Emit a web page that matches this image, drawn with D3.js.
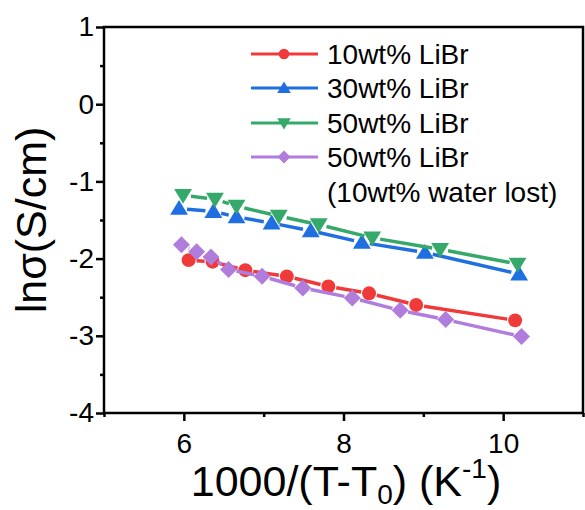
<!DOCTYPE html>
<html>
<head>
<meta charset="utf-8">
<script src="https://cdn.jsdelivr.net/npm/d3@7"></script>
<style>
  body { margin: 0; background: #fff; }
  svg { font-family: "Liberation Sans", Arial, sans-serif; }
</style>
</head>
<body>
<svg id="chart"></svg>
<script>
const width = 585;
const height = 510;

// series data
const libr10X = [6.06, 6.36, 6.77, 7.29, 7.81, 8.32, 8.91, 10.15];
const libr10Y = [-2.02, -2.04, -2.15, -2.23, -2.36, -2.45, -2.60, -2.80];
const libr30X = [5.94, 6.37, 6.66, 7.10, 7.59, 8.23, 9.02, 10.20];
const libr30Y = [-1.35, -1.39, -1.46, -1.54, -1.64, -1.79, -1.92, -2.20];
const libr50X = [5.99, 6.39, 6.66, 7.19, 7.69, 8.36, 9.21, 10.18];
const libr50Y = [-1.18, -1.23, -1.32, -1.45, -1.56, -1.73, -1.88, -2.07];
const lostX = [5.97, 6.16, 6.34, 6.56, 6.98, 7.49, 8.11, 8.71, 9.28, 10.23];
const lostY = [-1.82, -1.91, -1.98, -2.14, -2.23, -2.38, -2.51, -2.67, -2.79, -3.01];

const xTicks = [6, 8, 10];
const xMinor = [5, 7, 9, 11];
const yTicks = [1, 0, -1, -2, -3, -4];
const yMinor = [0.5, -0.5, -1.5, -2.5, -3.5];

const seriesNames = ["10wt% LiBr", "30wt% LiBr", "50wt% LiBr", "50wt% LiBr"];

const series = [
  { name: seriesNames[0], xs: libr10X, ys: libr10Y, color: "#f03a3a", symbol: "circle" },
  { name: seriesNames[1], xs: libr30X, ys: libr30Y, color: "#1f6fe0", symbol: "up" },
  { name: seriesNames[2], xs: libr50X, ys: libr50Y, color: "#35a96a", symbol: "down" },
  { name: seriesNames[3], xs: lostX, ys: lostY, color: "#b07ddd", symbol: "diamond" }
];

const margin = { left: 104, right: 2, top: 27, bottom: 97 };

const svg = d3.select("#chart")
  .attr("width", width)
  .attr("height", height);

const x = d3.scaleLinear().domain([5, 11]).range([margin.left, width - margin.right]);
const y = d3.scaleLinear().domain([-4, 1]).range([height - margin.bottom, margin.top]);

// axes
svg.append("g")
  .attr("transform", `translate(0,${y(-4)})`)
  .call(d3.axisBottom(x).tickValues(xTicks).tickSize(8).tickPadding(12).tickFormat(d3.format("d")));
svg.append("g")
  .attr("transform", `translate(0,${y(-4)})`)
  .call(d3.axisBottom(x).tickValues(xMinor).tickSize(4).tickFormat(""));

const yAxis = svg.append("g")
  .attr("transform", `translate(${x(5)},0)`)
  .call(d3.axisLeft(y).tickValues(yTicks).tickSize(8).tickPadding(2));
svg.append("g")
  .attr("transform", `translate(${x(5)},0)`)
  .call(d3.axisLeft(y).tickValues(yMinor).tickSize(4).tickFormat(""));

svg.selectAll(".domain").remove();
svg.selectAll(".tick line").attr("stroke", "#000").attr("stroke-width", 2.5);
svg.selectAll(".tick text")
  .attr("font-size", 28)
  .attr("font-family", "Liberation Sans, Arial, sans-serif")
  .attr("fill", "#000");
yAxis.selectAll(".tick text").text(d => d < 0 ? "-" + Math.abs(d) : d);

// frame
svg.append("rect")
  .attr("x", x(5))
  .attr("y", y(1))
  .attr("width", x(11) - x(5))
  .attr("height", y(-4) - y(1))
  .attr("fill", "none")
  .attr("stroke", "#000")
  .attr("stroke-width", 2.5);

// marker shapes
function marker(g, symbol, color, s) {
  if (symbol === "circle") {
    g.append("circle").attr("r", s * 0.82).attr("fill", color);
  } else if (symbol === "up") {
    g.append("path")
      .attr("d", `M0,${-s}L${s * 1.05},${s * 0.75}L${-s * 1.05},${s * 0.75}Z`)
      .attr("fill", color);
  } else if (symbol === "down") {
    g.append("path")
      .attr("d", `M0,${s}L${s * 1.05},${-s * 0.75}L${-s * 1.05},${-s * 0.75}Z`)
      .attr("fill", color);
  } else {
    g.append("path")
      .attr("d", `M0,${-s}L${s},0L0,${s}L${-s},0Z`)
      .attr("fill", color);
  }
}

// lines with gaps around markers, then markers
const gap = 8;
series.forEach(s => {
  const pts = s.xs.map((v, i) => [x(v), y(s.ys[i])]);
  const g = svg.append("g");
  for (let i = 0; i < pts.length - 1; i++) {
    const [x1, y1] = pts[i];
    const [x2, y2] = pts[i + 1];
    const len = Math.hypot(x2 - x1, y2 - y1);
    if (len <= 2 * gap) continue;
    const ux = (x2 - x1) / len, uy = (y2 - y1) / len;
    g.append("line")
      .attr("x1", x1 + ux * gap).attr("y1", y1 + uy * gap)
      .attr("x2", x2 - ux * gap).attr("y2", y2 - uy * gap)
      .attr("stroke", s.color)
      .attr("stroke-width", 3.5);
  }
  pts.forEach(p => {
    const m = g.append("g").attr("transform", `translate(${p[0]},${p[1]})`);
    marker(m, s.symbol, s.color, 8.5);
  });
});

// legend
const legend = svg.append("g");
const legendY = [54, 88, 123, 157];
series.forEach((s, i) => {
  const row = legend.append("g").attr("transform", `translate(0,${legendY[i]})`);
  row.append("line")
    .attr("x1", 251).attr("x2", 318)
    .attr("stroke", s.color).attr("stroke-width", 3);
  const m = row.append("g").attr("transform", "translate(284,0)");
  marker(m, s.symbol, s.color, 6.5);
  row.append("text")
    .attr("x", 327).attr("y", 10)
    .attr("font-size", 28)
    .text(s.name);
});
legend.append("text")
  .attr("x", 327).attr("y", 202)
  .attr("font-size", 28)
  .text("(10wt% water lost)");

// axis titles
const xTitle = svg.append("text")
  .attr("x", 346).attr("y", 496)
  .attr("text-anchor", "middle")
  .attr("font-size", 43);
xTitle.append("tspan").text("1000/(T-T");
xTitle.append("tspan").attr("font-size", 28).attr("dy", 8).text("0");
xTitle.append("tspan").attr("dy", -8).text(") (K");
xTitle.append("tspan").attr("font-size", 28).attr("dy", -18).text("-1");
xTitle.append("tspan").attr("dy", 18).text(")");

svg.append("text")
  .attr("transform", "translate(46,220) rotate(-90)")
  .attr("text-anchor", "middle")
  .attr("font-size", 43)
  .text("lnσ(S/cm)");
</script>
</body>
</html>
